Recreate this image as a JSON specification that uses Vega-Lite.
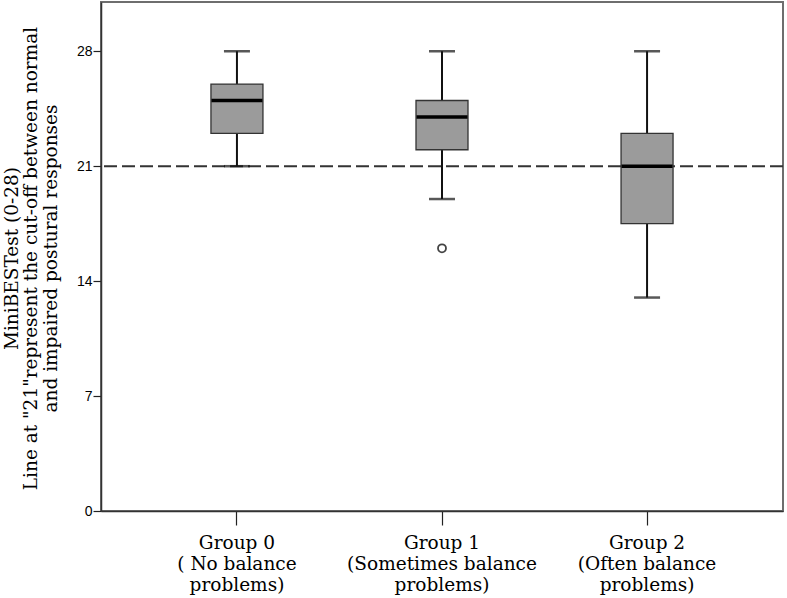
{
  "$schema": "https://vega.github.io/schema/vega-lite/v6.json",
  "width": 682,
  "height": 509,
  "autosize": {"type": "none"},
  "padding": {"left": 101, "top": 2, "right": 4, "bottom": 87},
  "background": "white",
  "config": {
    "view": {"stroke": "#6e6e6e", "strokeWidth": 2},
    "axis": {"grid": false}
  },
  "datasets": {
    "stats": [
      {"group": "Group 0|( No balance|problems)", "lo": 21, "q1": 23, "median": 25, "q3": 26, "hi": 28},
      {"group": "Group 1|(Sometimes balance|problems)", "lo": 19, "q1": 22, "median": 24, "q3": 25, "hi": 28},
      {"group": "Group 2|(Often balance|problems)", "lo": 13, "q1": 17.5, "median": 21, "q3": 23, "hi": 28}
    ],
    "outliers": [
      {"group": "Group 1|(Sometimes balance|problems)", "value": 16}
    ],
    "cutoff": [{"value": 21}]
  },
  "layer": [
    {
      "data": {"name": "cutoff"},
      "mark": {"type": "rule", "color": "#333333", "strokeWidth": 2, "strokeDash": [13, 5]},
      "encoding": {
        "y": {"field": "value", "type": "quantitative", "scale": {"domain": [0, 31], "nice": false, "zero": false}}
      }
    },
    {
      "data": {"name": "stats"},
      "layer": [
        {
          "mark": {"type": "rule", "color": "#111111", "strokeWidth": 2},
          "encoding": {
            "y": {"field": "lo", "type": "quantitative"},
            "y2": {"field": "hi"}
          }
        },
        {
          "mark": {"type": "tick", "color": "#111111", "thickness": 2.5, "size": 26},
          "encoding": {"y": {"field": "hi", "type": "quantitative"}}
        },
        {
          "mark": {"type": "tick", "color": "#111111", "thickness": 2.5, "size": 26},
          "encoding": {"y": {"field": "lo", "type": "quantitative"}}
        },
        {
          "mark": {"type": "bar", "width": 52, "fill": "#9b9b9b", "stroke": "#333333", "strokeWidth": 1.3},
          "encoding": {
            "y": {"field": "q1", "type": "quantitative"},
            "y2": {"field": "q3"}
          }
        },
        {
          "mark": {"type": "tick", "color": "#000000", "thickness": 3.5, "size": 51, "opacity": 1},
          "encoding": {"y": {"field": "median", "type": "quantitative"}}
        }
      ],
      "encoding": {
        "x": {
          "field": "group",
          "type": "nominal",
          "sort": null,
          "scale": {"type": "band", "paddingInner": 0, "paddingOuter": 0.163},
          "axis": {
            "title": null,
            "labelAngle": 0,
            "labelExpr": "split(datum.label, '|')",
            "labelFont": "DejaVu Serif",
            "labelFontSize": 18.5,
            "labelLineHeight": 21,
            "labelLimit": 400,
            "labelColor": "#000000",
            "labelBaseline": "top",
            "labelPadding": 8,
            "tickSize": 14,
            "tickColor": "#222222",
            "tickWidth": 1.2,
            "domainColor": "#333333",
            "domainWidth": 1.5
          }
        }
      }
    },
    {
      "data": {"name": "outliers"},
      "mark": {"type": "point", "shape": "circle", "filled": false, "size": 64, "stroke": "#444444", "strokeWidth": 1.8, "opacity": 1},
      "encoding": {
        "x": {"field": "group", "type": "nominal", "sort": null},
        "y": {"field": "value", "type": "quantitative"}
      }
    }
  ],
  "resolve": {"scale": {"x": "shared", "y": "shared"}},
  "encoding": {
    "y": {
      "type": "quantitative",
      "axis": {
        "values": [0, 7, 14, 21, 28],
        "title": ["MiniBESTest (0-28)", "Line at \"21\"represent the cut-off between normal", "and impaired postural responses"],
        "titleFont": "DejaVu Serif",
        "titleFontSize": 18.5,
        "titleFontWeight": "normal",
        "titleColor": "#000000",
        "titleLineHeight": 19.5,
        "titleAngle": 270,
        "titleAlign": "center",
        "titleBaseline": "alphabetic",
        "titleX": -84,
        "titleY": 256,
        "labelFont": "Liberation Sans",
        "labelFontSize": 14,
        "labelColor": "#000000",
        "labelPadding": 1,
        "tickSize": 8,
        "tickColor": "#222222",
        "tickWidth": 1.2,
        "domainColor": "#333333",
        "domainWidth": 1.5
      }
    }
  }
}
